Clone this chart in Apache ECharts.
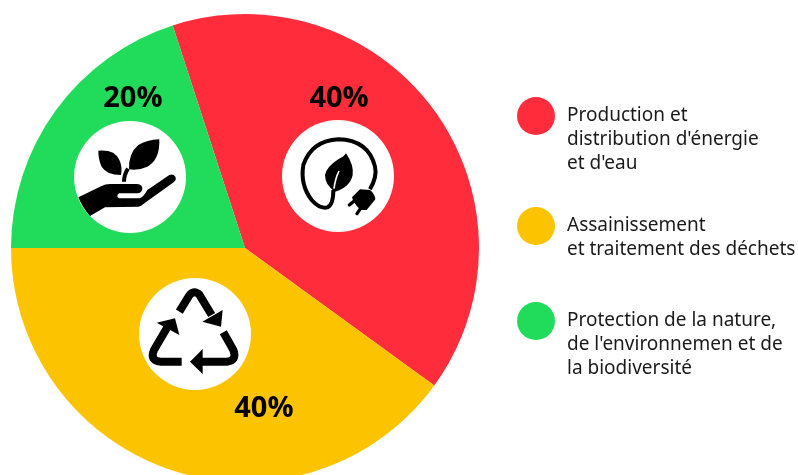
<!DOCTYPE html>
<html lang="fr">
<head>
<meta charset="utf-8">
<style>html,body{margin:0;padding:0;background:#fff}#chart{width:798px;height:475px}</style>
<script src="https://cdn.jsdelivr.net/npm/echarts@6/dist/echarts.min.js"></script>
</head>
<body>
<div id="chart"></div>
<script>
// Répartition des dépenses par domaine
const categories = [
  "Production et\ndistribution d'énergie\net d'eau",
  "Assainissement\net traitement des déchets",
  "Protection de la nature,\nde l'environnemen et de\nla biodiversité"
];
const shares = [40, 40, 20];
const colors = ['#ff2d3b', '#fcc400', '#20dc5a'];
const labelOffsets = [[-3, -79], [56, 47], [-15, -79]];
const legendTops = [56, 190, 261];

// Pictogrammes : chacun est dessiné dans un repère agrandi 3 fois
const handPath = 'M55 262 L125 228 Q135 222 150 222 L232 222 Q247 224 247 236 Q245 249 232 250 L178 250 Q172 252 172 258 Q172 264 178 265 L238 265 Q250 262 262 240 L328 195 Q340 190 346 200 Q350 208 342 216 L250 282 Q244 288 235 290 L135 292 L90 318 Q68 294 55 262 Z';
const leafLeft = 'M115 122 Q165 118 178 150 Q188 170 183 195 Q140 195 125 170 Q115 150 115 122 Z';
const leafRight = 'M298 88 Q300 150 262 170 Q235 182 207 178 Q205 130 235 105 Q260 90 298 88 Z';
const stem = 'M204 176 Q192 195 192 215';
const cord = 'M300 238 Q322 200 315 170 Q295 90 205 88 Q125 92 100 165 Q90 225 125 270 Q150 298 172 292 Q190 285 190 240';
const leafCord = 'M228 130 Q252 165 248 195 Q240 232 195 245 Q165 225 165 195 Q170 170 205 148 Q222 140 228 130 Z';
const vein = 'M207 183 Q196 205 192 236';
const plugBody = 'M270 238 L300 240 Q315 252 316 268 L290 300 L272 300 Q250 280 246 262 Z';
const prongs = 'M256 270 L238 285 M274 292 L261 311';
const arrowLines = 'M148 125 L178 76 Q192 58 208 74 L245 135 M280 187 L310 240 Q322 272 290 275 L208 275 M155 275 L92 275 Q58 272 72 240 L112 172';
const arrowHeads = 'M217 155 L273 170 L278 120 Z M218 237 L180 275 L218 312 Z M80 158 L135 145 L148 195 Z';

// Chaque tracé devient une forme enregistrée, utilisable dans le composant graphic
let shapeCount = 0;
function pathShape(d) {
  const name = 'picto' + shapeCount++;
  echarts.graphic.registerShape(name, echarts.graphic.extendPath(d, {}));
  return name;
}

function icon(x, y, solids, strokes) {
  const children = [];
  solids.forEach(d => children.push({ type: pathShape(d), z: 11, style: { fill: '#000' } }));
  strokes.forEach(s => children.push({
    type: pathShape(s.d),
    z: s.color ? 12 : 11,
    style: { fill: 'none', stroke: s.color || '#000', lineWidth: s.width, lineCap: s.cap || 'butt', lineJoin: 'round' }
  }));
  return { type: 'group', x, y, scaleX: 1 / 3, scaleY: 1 / 3, silent: true, children };
}

const disc = (cx, cy) => ({ type: 'circle', z: 10, shape: { cx, cy, r: 56 }, style: { fill: '#fff' }, silent: true });

// La pastille est centrée sur le texte : des lignes vides l'alignent sur la première ligne
const alignFirstLine = name => {
  const lineCount = name.split('\n').length;
  return '\n'.repeat(lineCount - 1) + name;
};

const chart = echarts.init(document.getElementById('chart'), null, { renderer: 'canvas' });
chart.setOption({
  animation: false,
  backgroundColor: '#fff',
  legend: categories.map((name, i) => ({
    data: [name],
    left: 517,
    top: legendTops[i],
    orient: 'vertical',
    padding: 0,
    icon: 'circle',
    itemWidth: 38,
    itemHeight: 38,
    selectedMode: false,
    formatter: alignFirstLine,
    textStyle: {
      fontFamily: 'Noto Sans',
      fontSize: 19,
      lineHeight: 24,
      color: '#1a1a1a',
      padding: [0, 0, 0, 7]
    }
  })),
  series: [{
    type: 'pie',
    center: [245, 248],
    radius: [0, 234],
    startAngle: 108,
    clockwise: true,
    silent: true,
    avoidLabelOverlap: false,
    itemStyle: { borderWidth: 0 },
    labelLine: { show: false },
    data: categories.map((name, i) => ({
      name,
      value: shares[i],
      itemStyle: { color: colors[i] },
      label: {
        show: true,
        position: 'inside',
        formatter: '{d}%',
        offset: labelOffsets[i],
        fontFamily: 'Open Sans',
        fontWeight: 'bold',
        fontSize: 29,
        color: '#000'
      }
    }))
  }],
  graphic: {
    elements: [
      disc(338, 176), disc(195, 334), disc(130, 177),
      icon(60, 110, [handPath, leafLeft, leafRight], [{ d: stem, width: 12 }]),
      icon(270, 110, [leafCord, plugBody], [
        { d: cord, width: 12 },
        { d: vein, width: 5, color: '#fff' },
        { d: prongs, width: 10, cap: 'round' }
      ]),
      icon(130, 270, [arrowHeads], [{ d: arrowLines, width: 24 }])
    ]
  }
});
</script>
</body>
</html>
